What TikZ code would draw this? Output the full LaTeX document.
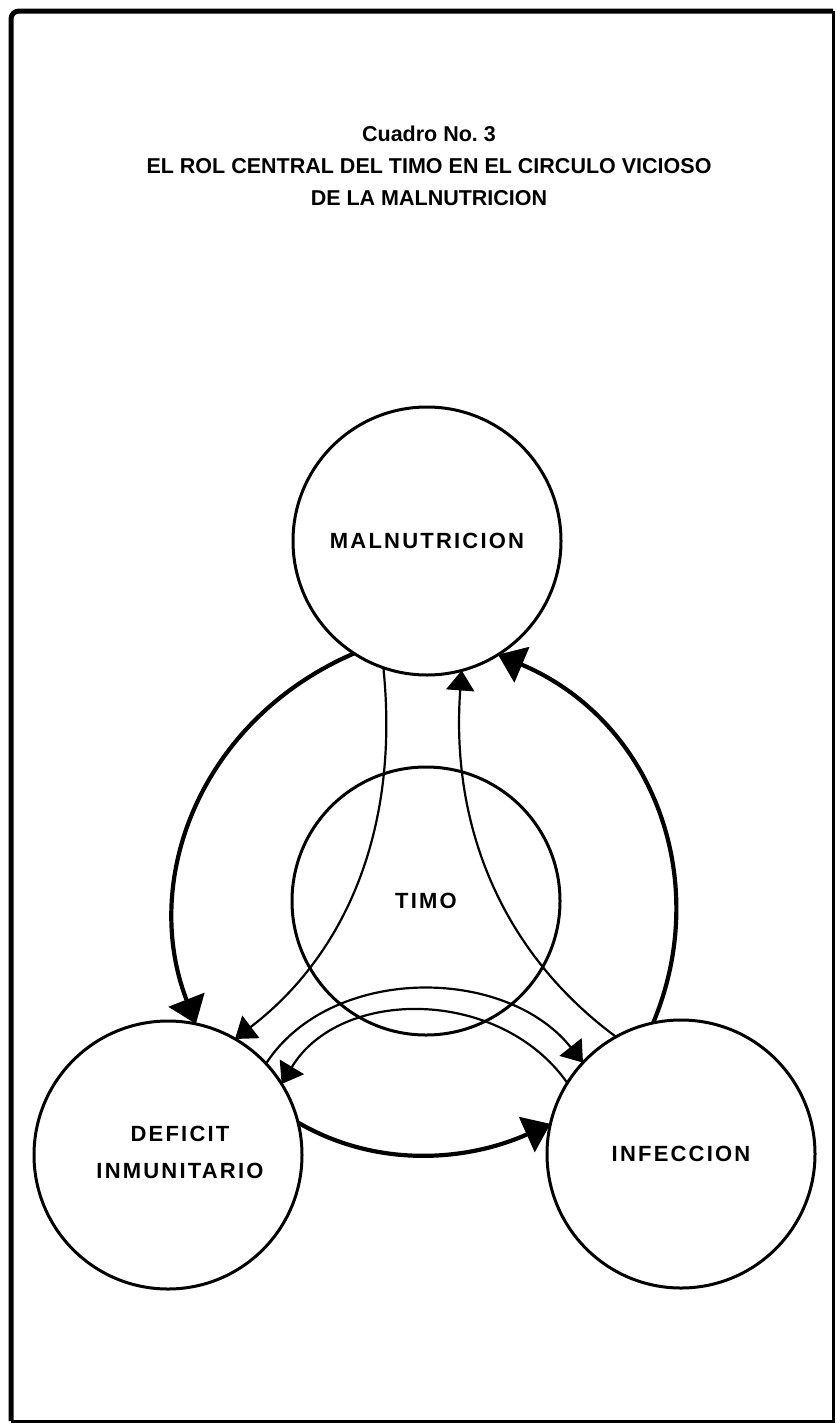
\documentclass[tikz,border=0pt]{standalone}
\usepackage{fontspec}
\setmainfont{Liberation Sans}
\newfontfamily\lblfont[LetterSpace=10]{Liberation Sans Bold}
\newfontfamily\ttlfont{Liberation Sans Bold}
\usetikzlibrary{arrows.meta}
\begin{document}
\begin{tikzpicture}[x=1pt,y=-1pt,
  circ/.style={circle,draw,line width=3pt,minimum size=268pt,inner sep=0pt,outer sep=0pt,
    font=\lblfont\fontsize{22}{37}\selectfont,align=center},
  lbl/.style={font=\lblfont\fontsize{22}{37}\selectfont,align=center,inner sep=0pt},
  ttl/.style={font=\ttlfont\fontsize{21.5}{26}\selectfont,inner sep=0pt},
  thinconn/.style={line width=2.2pt,-{Triangle[length=20pt,width=28pt]}},
  thickconn/.style={line width=4.2pt,-{Triangle[length=26pt,width=38pt]}},
]
\useasboundingbox (0,0) rectangle (836,1424);
\draw[line width=5pt,rounded corners=8pt] (11,1421) -- (11,11) -- (833,11);
\draw[line width=3pt] (833,11) -- (833,1421) -- (11,1421);

\node[ttl] (t1) at (429,134) {Cuadro No.\ 3};
\node[ttl] (t2) at (429,166) {EL ROL CENTRAL DEL TIMO EN EL CIRCULO VICIOSO};
\node[ttl] (t3) at (429,198) {DE LA MALNUTRICION};

\node[circ] (maln) at (427,541) {MALNUTRICION};
\node[circ] (timo) at (426,901) {TIMO};
\node[circ] (def) at (168,1155) {};
\node[lbl] (deftxt) at (180,1152) {DEFICIT\\INMUNITARIO};
\node[circ] (inf) at (681,1154) {INFECCION};

\draw[thickconn] (maln.237) .. controls (200,720) and (140,880) .. (def.78);
\draw[thinconn] (maln.251) .. controls (400,830) and (345,955) .. (def.60);
\draw[thinconn] (inf.119) .. controls (505,955) and (450,830) .. (maln.285);
\draw[thickconn] (inf.102) .. controls (713,880) and (653,720) .. (maln.302);
\draw[thinconn] (def.43) .. controls (330,965) and (505,965) .. (inf.137);
\draw[thinconn] (inf.148) .. controls (500,987) and (340,987) .. (def.32);
\draw[thickconn] (def.14) .. controls (380,1170) and (470,1160) .. (inf.167);
\end{tikzpicture}
\end{document}
